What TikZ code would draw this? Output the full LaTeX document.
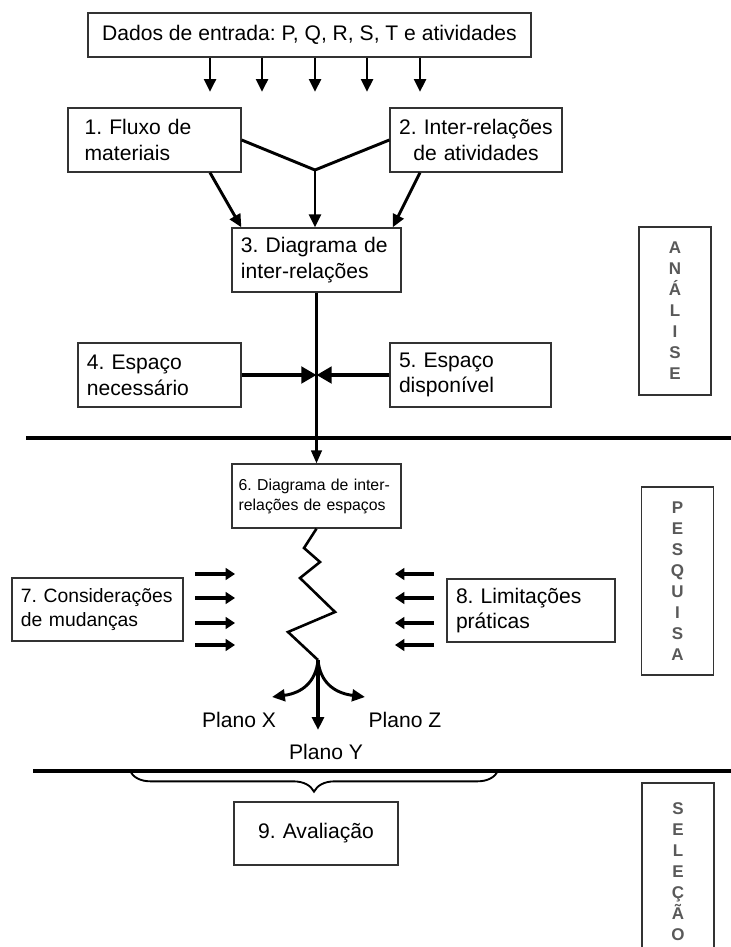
\documentclass[tikz,border=0pt]{standalone}
\usepackage{fontspec}
\setmainfont{Liberation Sans}
\usetikzlibrary{arrows.meta,decorations.pathreplacing}
\frenchspacing
\hyphenpenalty=10000
\exhyphenpenalty=10000

\begin{document}
\begin{tikzpicture}[x=0.03cm,y=-0.03cm,box/.style={draw=black!80,line width=1.1pt,fill=white,align=left,inner xsep=0.27cm,minimum height=1.92cm,font=\fontsize{18}{22}\selectfont},tag/.style={draw=black!80,line width=1.3pt,minimum width=2.15cm,align=center,font=\fontsize{14.5}{17.9}\selectfont\bfseries,text=black!65},flow/.style={line width=2.5pt,-{Triangle[length=11pt,width=10pt]}},feed/.style={line width=2pt,-{Triangle[length=11pt,width=9pt]}},push/.style={line width=3.6pt,-{Triangle[length=13pt,width=14pt]}},nudge/.style={line width=2.8pt,-{Triangle[length=8pt,width=10pt]}},plan/.style={font=\fontsize{18}{22}\selectfont},divider/.style={line width=2.6pt}]
\useasboundingbox (0,0) rectangle (731,947);
\node[box,align=center,minimum width=13.29cm,minimum height=1.32cm] (input) at (309.5,35) {Dados de entrada: P, Q, R, S, T e atividades};
\node[box,inner xsep=0.5cm,text width=4.19cm] (flux) at (154.5,140) {1. Fluxo de\\materiais};
\node[box,align=center,text width=4.62cm] (rel) at (476,140) {2. Inter-relações\\de atividades};
\node[box,text width=4.53cm] (diag) at (316.5,260) {3. Diagrama de\\inter-relações};
\node[box,text width=4.35cm] (need) at (159.5,375) {4. Espaço\\necessário};
\node[box,text width=4.29cm] (avail) at (470.5,375) {5. Espaço\\disponível};
\node[box,inner xsep=0.2cm,text width=4.67cm,font=\fontsize{13.5}{17}\selectfont] (sdiag) at (316.5,496) {\mbox{6. Diagrama de inter-}\\\mbox{relações de espaços}};
\node[box,text width=4.59cm,minimum height=1.89cm,font=\fontsize{16.5}{21}\selectfont] (chg) at (97.5,609.5) {7. Considerações\\de mudanças};
\node[box,text width=4.5cm,minimum height=1.89cm] (lim) at (531,610.5) {8. Limitações\\práticas};
\node[box,align=center,text width=4.38cm,minimum height=1.89cm] (eval) at (316,833.5) {9. Avaliação};
\node[tag,minimum height=5.04cm] (tana) at (675,311) {A\\N\\Á\\L\\I\\S\\E};
\node[tag,minimum height=5.64cm] (tpes) at (677.5,581) {P\\E\\S\\Q\\U\\I\\S\\A};
\node[tag,minimum height=5.31cm] (tsel) at (678,871.5) {S\\E\\L\\E\\Ç\\Ã\\O};
% entradas
\foreach \i/\x in {1/210,2/262,3/315,4/367,5/420} {
  \coordinate (in\i) at (\x,92);
  \draw[flow] (input.south -| in\i) -- (in\i);
}
\coordinate (join) at (315,170);
\draw[line width=2.5pt] (flux.east) -- (join) -- (rel.west);
\draw[flow] (join) -- (diag.north -| join);
\draw[flow] (flux.south -| in1) -- ([xshift=0.3cm]diag.north west);
\draw[flow] (rel.south -| in5) -- ([xshift=-0.27cm]diag.north east);
\draw[feed] (diag) -- (sdiag);
\coordinate (meet) at (diag.south |- need.east);
\draw[push] (need) -- (meet);
\draw[push] (avail) -- (meet);
% fases
\draw[divider] (26,438) -- (731,438);
\draw[divider] (33,771) -- (731,771);
% pesquisa
\coordinate (fork) at (318,660);
\draw[line width=2.2pt] (sdiag.south) -- (304,548) -- (320,562) -- (300,578) -- (335,612) -- (288,632) -- (fork);
\foreach \y in {574,598,623,645} {
  \draw[nudge] (195,\y) -- (235,\y);
  \draw[nudge] (434,\y) -- (395,\y);
}
\node[plan] (px) at (239,720) {Plano X};
\node[plan] (pz) at (405,720) {Plano Z};
\node[plan] (py) at (326,752) {Plano Y};
\coordinate (ytip) at (318,730);
\draw[flow,line width=2.8pt] (fork) -- (ytip);
\draw[flow] (fork) .. controls (316,682) and (302,693) .. (272,697);
\draw[flow] (fork) .. controls (320,682) and (334,693) .. (365,697);
\draw[line width=1.6pt,decorate,decoration={brace,mirror,amplitude=0.62cm}] (130,771) -- (498,771);
\end{tikzpicture}
\end{document}
